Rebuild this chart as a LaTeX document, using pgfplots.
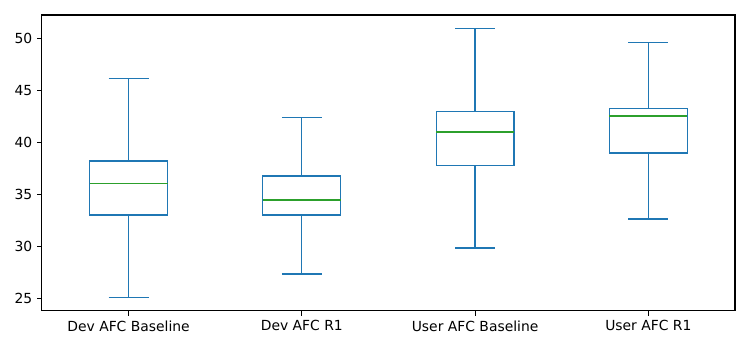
\documentclass[border=0pt]{standalone}
\usepackage{fontspec}
\setmainfont{DejaVu Sans}
\usepackage{pgfplots}
\pgfplotsset{compat=1.18}
\usepgfplotslibrary{statistics}
\definecolor{mplblue}{HTML}{1F77B4}
\definecolor{mplgreen}{HTML}{2CA02C}
\begin{document}
\begin{tikzpicture}
\begin{axis}[
    width=499pt, height=213pt,
    scale only axis,
    xmin=0.5, xmax=4.5,
    ymin=23.85, ymax=52.23,
    xtick={1,2,3,4},
    xticklabels={Dev AFC Baseline,Dev AFC R1,User AFC Baseline,User AFC R1},
    ytick={25,30,35,40,45,50},
    tick align=outside,
    tick pos=left,
    major tick length=3.5pt,
    axis line style={line width=0.8pt},
    tick style={line width=0.8pt, black},
    tick label style={font=\fontsize{10}{12}\selectfont},
    /pgf/number format/assume math mode=true,
    boxplot/draw direction=y,
    boxplot/box extend=0.45,
    boxplot/whisker extend=0.23,
    bx/.style={draw=mplblue, line width=0.9pt, mark=none, solid},
    boxplot/every median/.style={draw=mplgreen, line width=0.9pt, solid},
]
\addplot[bx, boxplot prepared={draw position=1,
    lower whisker=25.10, lower quartile=33.05, median=36.04,
    upper quartile=38.22, upper whisker=46.17}] coordinates {};
\addplot[bx, boxplot prepared={draw position=2,
    lower whisker=27.39, lower quartile=33.05, median=34.48,
    upper quartile=36.78, upper whisker=42.43}] coordinates {};
\addplot[bx, boxplot prepared={draw position=3,
    lower whisker=29.89, lower quartile=37.77, median=41.00,
    upper quartile=43.00, upper whisker=50.96}] coordinates {};
\addplot[bx, boxplot prepared={draw position=4,
    lower whisker=32.66, lower quartile=38.98, median=42.53,
    upper quartile=43.26, upper whisker=49.62}] coordinates {};
\end{axis}
\path ([xshift=-30.2pt,yshift=-28.1pt]current axis.south west)
  rectangle ([xshift=10.8pt,yshift=10.8pt]current axis.north east);
\end{tikzpicture}
\end{document}
